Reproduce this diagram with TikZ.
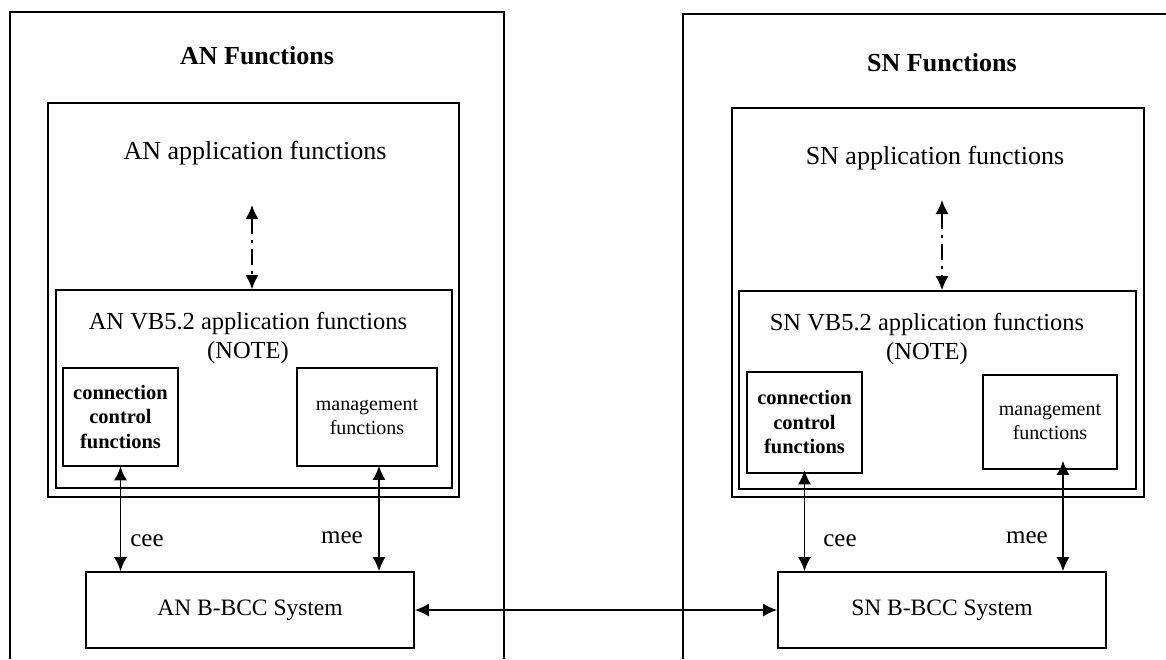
\documentclass[tikz,border=0pt]{standalone}
\usepackage{fontspec}
\setmainfont{Liberation Serif}
\usetikzlibrary{arrows.meta}

\begin{document}
\begin{tikzpicture}[x=1pt,y=-1pt,
                    frame/.style={draw=black,line width=1.3pt},
                    box/.style={draw=black,line width=1.6pt,inner sep=0pt,align=center},
                    ccbox/.style={box,line width=2.6pt,font=\fontsize{20.5}{24.5}\selectfont\bfseries},
                    mgbox/.style={box,font=\fontsize{20}{24}\selectfont},
                    title/.style={font=\fontsize{26}{30}\selectfont\bfseries},
                    txt/.style={font=\fontsize{26}{30}\selectfont,align=center},
                    vbtxt/.style={font=\fontsize{24.5}{29}\selectfont,align=center},
                    bcctxt/.style={font=\fontsize{23.5}{28}\selectfont},
                    lbl/.style={font=\fontsize{25}{30}\selectfont},
                    biarrow/.style={line width=1.8pt,{Latex[length=14pt,width=13pt]}-{Latex[length=14pt,width=13pt]}},
                    dasharrow/.style={biarrow,line width=1.6pt,dash pattern=on 16pt off 6pt on 3pt off 6pt}
                ]
                    \useasboundingbox (0,0) rectangle (1166,659);

                    \draw[frame] (10,659) -- (10,12) -- (504,12) -- (504,659);
                    \draw[frame] (683,659) -- (683,14) -- (1166,14);

                    \node[title] (antitle) at (257,56) {AN Functions};
                    \node[title] (sntitle) at (942,63) {SN Functions};

                    \node[box,line width=1.3pt,minimum width=411,minimum height=394] (anapp) at (253.5,300) {};
                    \node[box,minimum width=396,minimum height=198] (anvb) at (254,389) {};
                    \node[box,line width=1.3pt,minimum width=412,minimum height=389] (snapp) at (938,302.5) {};
                    \node[box,minimum width=397,minimum height=198] (snvb) at (937.5,390) {};

                    \node[txt] (anapptxt) at (255,153) {AN application functions};
                    \node[txt] (snapptxt) at (935,158) {SN application functions};
                    \node[vbtxt] (anvbtxt) at (248,338) {AN VB5.2 application functions\\(NOTE)};
                    \node[vbtxt] (snvbtxt) at (927,339) {SN VB5.2 application functions\\(NOTE)};

                    \node[ccbox,minimum width=115,minimum height=98] (ancc) at (120.5,417) {connection\\control\\functions};
                    \node[mgbox,minimum width=140,minimum height=98] (anmg) at (367,417) {management\\functions};
                    \node[ccbox,minimum width=115,minimum height=101] (sncc) at (804.5,422.5) {connection\\control\\functions};
                    \node[mgbox,minimum width=134,minimum height=94] (snmg) at (1050,422) {management\\functions};

                    \node[box,bcctxt,minimum width=328,minimum height=76] (anbcc) at (250,610) {AN B-BCC System};
                    \node[box,bcctxt,minimum width=328,minimum height=76] (snbcc) at (942,610) {SN B-BCC System};

                    \coordinate (anup) at (252,205);
                    \coordinate (snup) at (942,200);
                    \draw[dasharrow] (anup) -- (anup |- anvb.north);
                    \draw[dasharrow] (snup) -- (snup |- snvb.north);

                    \draw[biarrow] ([yshift=1pt]ancc.south) -- (ancc.south |- anbcc.north);
                    \draw[biarrow] ([xshift=12pt,yshift=1pt]anmg.south) -- ([xshift=12pt]anmg.south |- anbcc.north);
                    \draw[biarrow] ([yshift=4pt]sncc.south) -- (sncc.south |- snbcc.north);
                    \draw[biarrow] ([xshift=13pt,yshift=9pt]snmg.south) -- ([xshift=13pt]snmg.south |- snbcc.north);
                    \draw[biarrow] (anbcc.east) -- (snbcc.west);

                    \node[lbl] (ancee) at (147,541) {cee};
                    \node[lbl] (anmee) at (342,538) {mee};
                    \node[lbl] (sncee) at (840,541) {cee};
                    \node[lbl] (snmee) at (1027,538) {mee};

                \end{tikzpicture}
\end{document}
